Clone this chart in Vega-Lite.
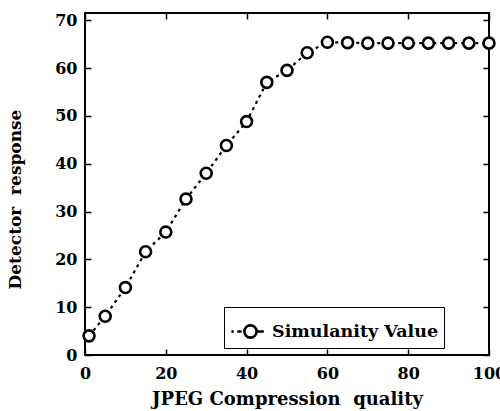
{
  "$schema": "https://vega.github.io/schema/vega-lite/v6.json",
  "width": 404,
  "height": 342,
  "autosize": {"type": "none"},
  "padding": {"left": 85, "top": 13, "right": 11, "bottom": 56},
  "background": "white",
  "config": {
    "view": {"stroke": "black", "strokeWidth": 2},
    "font": "DejaVu Serif",
    "axis": {
      "grid": false,
      "domain": false,
      "tickColor": "black",
      "tickWidth": 1.5,
      "tickSize": -6,
      "labelFont": "DejaVu Serif",
      "labelFontWeight": "bold",
      "labelFontSize": 16,
      "labelColor": "black",
      "titleFont": "DejaVu Serif",
      "titleFontWeight": "bold",
      "titleColor": "black"
    }
  },
  "data": {
    "values": [
      {"q": 1, "r": 4.0, "s": "Simulanity Value"},
      {"q": 5, "r": 8.1, "s": "Simulanity Value"},
      {"q": 10, "r": 14.1, "s": "Simulanity Value"},
      {"q": 15, "r": 21.6, "s": "Simulanity Value"},
      {"q": 20, "r": 25.7, "s": "Simulanity Value"},
      {"q": 25, "r": 32.6, "s": "Simulanity Value"},
      {"q": 30, "r": 38.0, "s": "Simulanity Value"},
      {"q": 35, "r": 43.8, "s": "Simulanity Value"},
      {"q": 40, "r": 48.8, "s": "Simulanity Value"},
      {"q": 45, "r": 57.0, "s": "Simulanity Value"},
      {"q": 50, "r": 59.5, "s": "Simulanity Value"},
      {"q": 55, "r": 63.2, "s": "Simulanity Value"},
      {"q": 60, "r": 65.4, "s": "Simulanity Value"},
      {"q": 65, "r": 65.3, "s": "Simulanity Value"},
      {"q": 70, "r": 65.2, "s": "Simulanity Value"},
      {"q": 75, "r": 65.2, "s": "Simulanity Value"},
      {"q": 80, "r": 65.2, "s": "Simulanity Value"},
      {"q": 85, "r": 65.2, "s": "Simulanity Value"},
      {"q": 90, "r": 65.2, "s": "Simulanity Value"},
      {"q": 95, "r": 65.2, "s": "Simulanity Value"},
      {"q": 100, "r": 65.2, "s": "Simulanity Value"}
    ]
  },
  "encoding": {
    "x": {"field": "q", "type": "quantitative", "scale": {"domain": [0, 100], "nice": false, "zero": false}},
    "y": {"field": "r", "type": "quantitative", "scale": {"domain": [0, 71.5], "nice": false}}
  },
  "layer": [
    {
      "mark": {"type": "line", "color": "black", "strokeWidth": 2.2, "strokeDash": [3, 4]},
      "encoding": {
        "x": {"field": "q", "type": "quantitative", "axis": {"title": "JPEG Compression\u00a0\u00a0quality", "titleFontSize": 18, "values": [0, 20, 40, 60, 80, 100], "labelPadding": 16, "titlePadding": 9, "labelFlush": false}},
        "y": {"field": "r", "type": "quantitative", "axis": {"title": "Detector\u00a0\u00a0response", "titleFontSize": 17, "titleY": 186, "values": [0, 10, 20, 30, 40, 50, 60, 70], "labelPadding": 14, "titlePadding": 30}}
      }
    },
    {
      "mark": {"type": "point", "shape": "circle", "filled": false, "fill": "white", "fillOpacity": 1, "strokeWidth": 2.6, "size": 120, "opacity": 1},
      "encoding": {
        "x": {"field": "q", "type": "quantitative", "axis": {"orient": "top", "labels": false, "title": null, "values": [0, 20, 40, 60, 80, 100]}},
        "y": {"field": "r", "type": "quantitative", "axis": {"orient": "right", "labels": false, "title": null, "values": [0, 10, 20, 30, 40, 50, 60, 70]}},
        "color": {
          "field": "s",
          "type": "nominal",
          "scale": {"range": ["black"]},
          "legend": {
            "title": null,
            "orient": "none",
            "legendX": 139,
            "legendY": 294,
            "strokeColor": "black",
            "fillColor": "white",
            "padding": 5,
            "cornerRadius": 0,
            "symbolType": "M-0.95,0H-0.82M-0.62,0H-0.38M0.45,0A0.34,0.34 0 1 1 -0.23,0A0.34,0.34 0 1 1 0.45,0M0.45,0H0.85",
            "symbolSize": 1296,
            "symbolStrokeWidth": 2.6,
            "symbolStrokeColor": "black",
            "symbolFillColor": "white",
            "labelFont": "DejaVu Serif",
            "labelFontWeight": "bold",
            "labelFontSize": 17.5,
            "labelLimit": 400,
            "labelColor": "black",
            "labelOffset": 4,
            "encode": {"legend": {"update": {"strokeWidth": {"value": 2.5}}}}
          }
        }
      }
    }
  ],
  "resolve": {"axis": {"x": "independent", "y": "independent"}}
}
